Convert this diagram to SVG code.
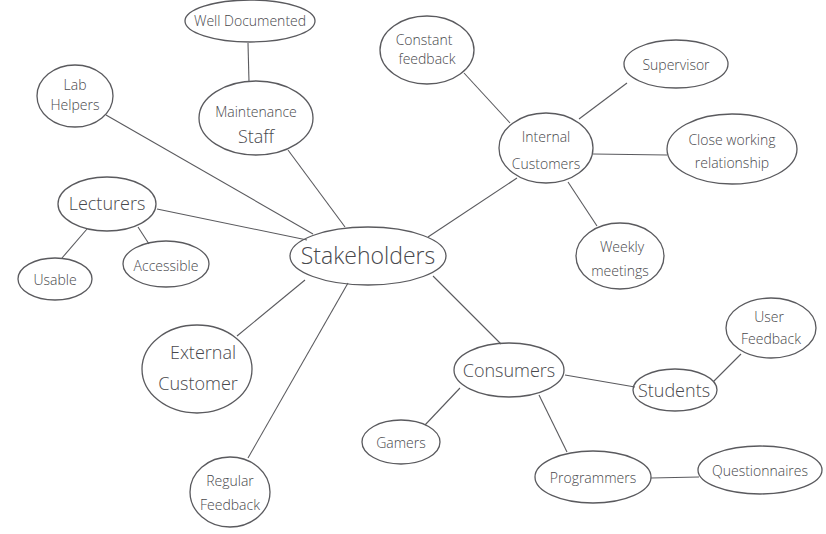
<svg xmlns="http://www.w3.org/2000/svg" width="826" height="534" viewBox="0 0 826 534">
<style>
.n ellipse{fill:none;stroke:#5a5a5e;stroke-width:1.3}
.c line{stroke:#5a5a5e;stroke-width:1.1}
text{font-family:"Open Sans","Liberation Sans",sans-serif;font-weight:300;fill:#48484c;text-anchor:middle;font-size:14px}
.b{font-size:18px}
.xl{font-size:23px}
</style>
<rect width="826" height="534" fill="#fff"/>
<g id="connectors" class="c">
<line x1="248" y1="43" x2="249" y2="82"/>
<line x1="288" y1="150" x2="345" y2="227"/>
<line x1="106" y1="115" x2="313" y2="234"/>
<line x1="157" y1="209" x2="307" y2="240"/>
<line x1="87" y1="229" x2="62" y2="258"/>
<line x1="138" y1="227" x2="149" y2="244"/>
<line x1="428" y1="237" x2="517" y2="178"/>
<line x1="464" y1="73" x2="510" y2="123"/>
<line x1="579" y1="119" x2="627" y2="83"/>
<line x1="593" y1="154" x2="667" y2="155"/>
<line x1="568" y1="182" x2="597" y2="226"/>
<line x1="433" y1="276" x2="501" y2="344"/>
<line x1="305" y1="280" x2="237" y2="336"/>
<line x1="348" y1="283" x2="248" y2="458"/>
<line x1="460" y1="388" x2="425" y2="425"/>
<line x1="565" y1="375" x2="635" y2="387"/>
<line x1="539" y1="395" x2="567" y2="452"/>
<line x1="713" y1="382" x2="741" y2="354"/>
<line x1="651" y1="478" x2="699" y2="477"/>
</g>
<g id="well-documented" class="n"><ellipse cx="250" cy="21" rx="65" ry="21"/><text x="250" y="26">Well Documented</text></g>
<g id="maintenance-staff" class="n"><ellipse cx="256" cy="118" rx="57" ry="37"/><text x="256" y="117">Maintenance</text><text class="b" x="256" y="143">Staff</text></g>
<g id="lab-helpers" class="n"><ellipse cx="75" cy="96" rx="38" ry="31"/><text x="75" y="90">Lab</text><text x="75" y="110">Helpers</text></g>
<g id="lecturers" class="n"><ellipse cx="107" cy="204" rx="49" ry="27"/><text class="b" x="107" y="210">Lecturers</text></g>
<g id="usable" class="n"><ellipse cx="55" cy="279" rx="37" ry="21"/><text x="55" y="285">Usable</text></g>
<g id="accessible" class="n"><ellipse cx="166" cy="264" rx="43" ry="23"/><text x="166" y="271">Accessible</text></g>
<g id="stakeholders" class="n"><ellipse cx="368" cy="256" rx="78" ry="29"/><text class="xl" x="368" y="264">Stakeholders</text></g>
<g id="constant-feedback" class="n"><ellipse cx="427" cy="50" rx="47" ry="34"/><text x="424" y="45">Constant</text><text x="427" y="64">feedback</text></g>
<g id="supervisor" class="n"><ellipse cx="676" cy="64" rx="52" ry="24"/><text x="676" y="70">Supervisor</text></g>
<g id="internal-customers" class="n"><ellipse cx="546" cy="148" rx="47" ry="35"/><text x="546" y="142">Internal</text><text x="546" y="169">Customers</text></g>
<g id="close-working-relationship" class="n"><ellipse cx="732" cy="149" rx="65" ry="35"/><text x="732" y="145">Close working</text><text x="732" y="168">relationship</text></g>
<g id="weekly-meetings" class="n"><ellipse cx="620" cy="256" rx="44" ry="33"/><text x="622" y="252">Weekly</text><text x="620" y="276">meetings</text></g>
<g id="external-customer" class="n"><ellipse cx="197" cy="369" rx="55" ry="44"/><text class="b" x="203" y="359">External</text><text class="b" x="198" y="390">Customer</text></g>
<g id="regular-feedback" class="n"><ellipse cx="230" cy="492" rx="40" ry="35"/><text x="230" y="486">Regular</text><text x="230" y="510">Feedback</text></g>
<g id="gamers" class="n"><ellipse cx="401" cy="442" rx="39" ry="22"/><text x="401" y="448">Gamers</text></g>
<g id="consumers" class="n"><ellipse cx="509" cy="370" rx="55" ry="27"/><text class="b" x="509" y="377">Consumers</text></g>
<g id="students" class="n"><ellipse cx="675" cy="390" rx="42" ry="21"/><text class="b" x="674" y="397">Students</text></g>
<g id="user-feedback" class="n"><ellipse cx="771" cy="328" rx="45" ry="30"/><text x="769" y="322">User</text><text x="771" y="344">Feedback</text></g>
<g id="programmers" class="n"><ellipse cx="593" cy="477" rx="58" ry="26"/><text x="593" y="483">Programmers</text></g>
<g id="questionnaires" class="n"><ellipse cx="760" cy="470" rx="62" ry="24"/><text x="760" y="476">Questionnaires</text></g>
</svg>
